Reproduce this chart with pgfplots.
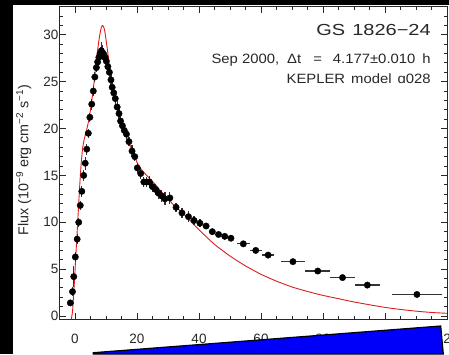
\documentclass[border=0pt]{standalone}
\usepackage{fontspec}
\setmainfont{Liberation Sans}
\newfontfamily\widefont[FakeStretch=1.25]{Liberation Sans}
\newfontfamily\midfont[FakeStretch=1.1]{Liberation Sans}
\usepackage{pgfplots}
\pgfplotsset{compat=1.18}
\definecolor{modelred}{RGB}{220,30,30}
\definecolor{polyblue}{RGB}{0,0,250}
\definecolor{axgray}{RGB}{40,40,40}
\begin{document}
\begin{tikzpicture}
\fill[white] (-59.5pt,-34.7pt) rectangle (389.5pt,319.3pt);
\fill[black] (-59.5pt,-34.7pt) rectangle (-46.2pt,319.3pt);
\fill[black] (-59.5pt,314pt) rectangle (389.5pt,319.3pt);
\begin{axis}[
  at={(0pt,0pt)}, anchor=south west,
  scale only axis, width=387.5pt, height=312.6pt,
  xmin=-5, xmax=120, ymin=-0.35, ymax=33,
  xtick={0,20,...,100}, ytick={0,5,...,30},
  extra x ticks={120},
  extra x tick style={xticklabel style={overlay}},
  minor x tick num=3, minor y tick num=4,
  tick align=inside,
  major tick length=6.5pt, minor tick length=3.5pt,
  axis line style={line width=1pt, draw=axgray},
  major tick style={line width=0.9pt, draw=axgray},
  minor tick style={line width=0.9pt, draw=axgray},
  /pgf/number format/assume math mode=true,
  ticklabel style={font=\fontsize{13.5}{14}\selectfont, text=axgray},
  yticklabel style={xshift=2.5pt},
  xticklabel style={yshift=-11pt},
  ylabel={Flux (10\textsuperscript{−9} erg cm\textsuperscript{−2} s\textsuperscript{−1})},
  ylabel style={at={(axis description cs:-0.092,0.51)}, anchor=center, font=\fontsize{14.3}{15}\selectfont, text=axgray},
]
\addplot[modelred, line width=0.9pt, smooth, tension=0.4] coordinates {
(-1.2,-0.35) (-0.8,0.5) (-0.4,2.5) (0.0,4.8) (0.5,7.8) (1.0,10.8) (1.5,13.8) (2.0,16.3)
(2.5,18.0) (3.0,18.9) (3.5,19.5) (4.0,20.2) (4.5,21.0) (5.0,22.0) (5.5,23.2) (6.0,24.5)
(6.5,26.0) (7.0,27.5) (7.5,28.9) (8.0,30.0) (8.5,30.8) (8.8,31.0) (9.2,30.9) (9.6,30.4)
(10.0,29.5) (10.5,28.3) (11.0,27.0) (11.5,25.8) (12.0,24.6) (12.5,23.6) (13.0,22.8)
(14.0,21.5) (15.0,20.5) (16.0,19.6) (17.0,18.8) (18.0,18.0) (19.0,17.2) (20.0,16.4)
(21.0,15.8) (22.0,15.4) (24.0,14.7) (26.0,14.0) (28.0,13.2) (30.0,12.5) (32.0,11.8)
(35.0,10.9) (40.0,9.2) (45.0,7.65) (50.0,6.4) (55.0,5.35) (60.0,4.45) (65.0,3.72)
(70.0,3.1) (75.0,2.62) (80.0,2.2) (85.0,1.85) (90.0,1.5) (95.0,1.2) (100.0,0.92)
(105.0,0.7) (110.0,0.52) (115.0,0.38) (120.0,0.29)
};
\addplot[only marks, mark=*, mark size=3.2pt, black,
  error bars/.cd, x dir=both, x explicit, y dir=both, y explicit, error mark=none,
  error bar style={line width=1.2pt, black!80}]
  table[x=x, y=y, x error=ex, y error=ey] {
x y ex ey
-1.5 1.4 0 0.3
-0.8 2.6 0 0.5
-0.4 4.2 0 1.1
0.1 6.3 0 0.5
0.7 8.2 0 0.5
1.2 10.0 0 0.5
1.7 11.8 0 0.5
2.2 13.3 0 0.6
2.8 15.0 0 0.6
3.3 16.3 0 0.7
3.8 17.8 0 0.6
4.3 19.5 0 0.5
4.8 21.2 0 0.5
5.4 22.6 0 0.6
5.9 24.0 0 0.5
6.4 25.5 0 0.5
6.9 26.5 0 0.5
7.3 27.1 0 0.6
7.7 27.6 0 0.6
8.1 28.0 0 0.7
8.5 28.3 0 0.9
8.9 28.1 0 0.8
9.3 27.9 0 0.7
9.7 27.6 0 0.6
10.1 27.2 0 0.6
10.6 26.6 0 0.6
11.1 26.0 0 0.6
11.6 25.2 0 0.6
12.0 24.4 0 0.6
12.5 23.8 0 0.6
13.0 23.2 0 0.6
13.6 22.3 0 0.6
14.2 21.6 0 0.6
14.7 20.8 0 0.5
15.3 20.3 0 0.5
15.9 19.8 0 0.5
16.6 19.4 0 0.5
17.4 18.6 0 0.5
18.4 17.6 0 0.6
19.3 17.0 0 0.5
20.1 15.8 0 0.5
21.2 15.2 0 0.6
22.2 14.3 0 0.5
23.1 14.3 0 0.5
24.0 14.3 0 0.6
25.0 13.8 0 0.6
26.0 13.5 0 0.6
27.0 13.1 0 0.6
28.0 12.8 0 0.6
29.0 12.5 0 0.7
30.6 12.6 0 0.6
32.6 11.6 0 0.5
34.5 11.0 0 0.5
36.6 10.6 0 0.6
38.4 10.2 0 0.5
40.3 9.9 1 0.4
42.3 9.6 1 0.3
44.3 9.0 1 0.3
46.3 8.7 1 0.3
48.3 8.5 1 0.3
50.3 8.3 1 0.3
54.3 7.7 2 0.3
58.3 7.0 2 0.3
62.3 6.5 2 0.3
70.3 5.8 4 0.2
78.3 4.8 4 0.2
86.3 4.1 4 0.2
94.3 3.3 4 0.2
110.3 2.3 8 0.2
};
\node[anchor=base east, inner sep=0pt, font=\widefont\fontsize{16}{17}\selectfont, text=axgray] at (axis cs:114.8,29.9) {GS\hspace{7pt}1826−24};
\node[anchor=base east, inner sep=0pt, font=\midfont\fontsize{13.5}{14}\selectfont, text=axgray] at (axis cs:114.8,26.9) {Sep 2000,\hspace{8pt}Δt\hspace{12pt}=\hspace{11pt}4.177±0.010\hspace{7pt}h};
\node[anchor=base east, inner sep=0pt, font=\midfont\fontsize{13.5}{14}\selectfont, text=axgray] at (axis cs:114.8,24.85) {KEPLER\hspace{6pt}model\hspace{6pt}ɑ028};
\end{axis}
% tick marks (frame decoration), x: 3.1pt per unit from -5; y: 9.3733pt per unit from -0.35
\foreach \v in {0,5,...,115} {
  \draw[axgray, line width=0.9pt] ({(\v+5)*3.1pt},0pt) -- ++(0pt,3.5pt);
  \draw[axgray, line width=0.9pt] ({(\v+5)*3.1pt},312.6pt) -- ++(0pt,-3.5pt);
}
\foreach \v in {0,20,...,120} {
  \draw[axgray, line width=0.9pt] ({(\v+5)*3.1pt},0pt) -- ++(0pt,6.5pt);
  \draw[axgray, line width=0.9pt] ({(\v+5)*3.1pt},312.6pt) -- ++(0pt,-6.5pt);
}
\foreach \v in {1,...,33} {
  \draw[axgray, line width=0.9pt] (0pt,{(\v+0.35)*9.3733pt}) -- ++(3.5pt,0pt);
  \draw[axgray, line width=0.9pt] (387.5pt,{(\v+0.35)*9.3733pt}) -- ++(-3.5pt,0pt);
}
\foreach \v in {0,5,...,30} {
  \draw[axgray, line width=0.9pt] (0pt,{(\v+0.35)*9.3733pt}) -- ++(6.5pt,0pt);
  \draw[axgray, line width=0.9pt] (387.5pt,{(\v+0.35)*9.3733pt}) -- ++(-6.5pt,0pt);
}
\draw[line width=1.2pt, fill=polyblue] (33.8pt,-33.4pt) -- (381.2pt,-6.7pt) -- (383.8pt,-34.7pt) -- (33.8pt,-34.7pt) -- cycle;
\end{tikzpicture}
\end{document}
